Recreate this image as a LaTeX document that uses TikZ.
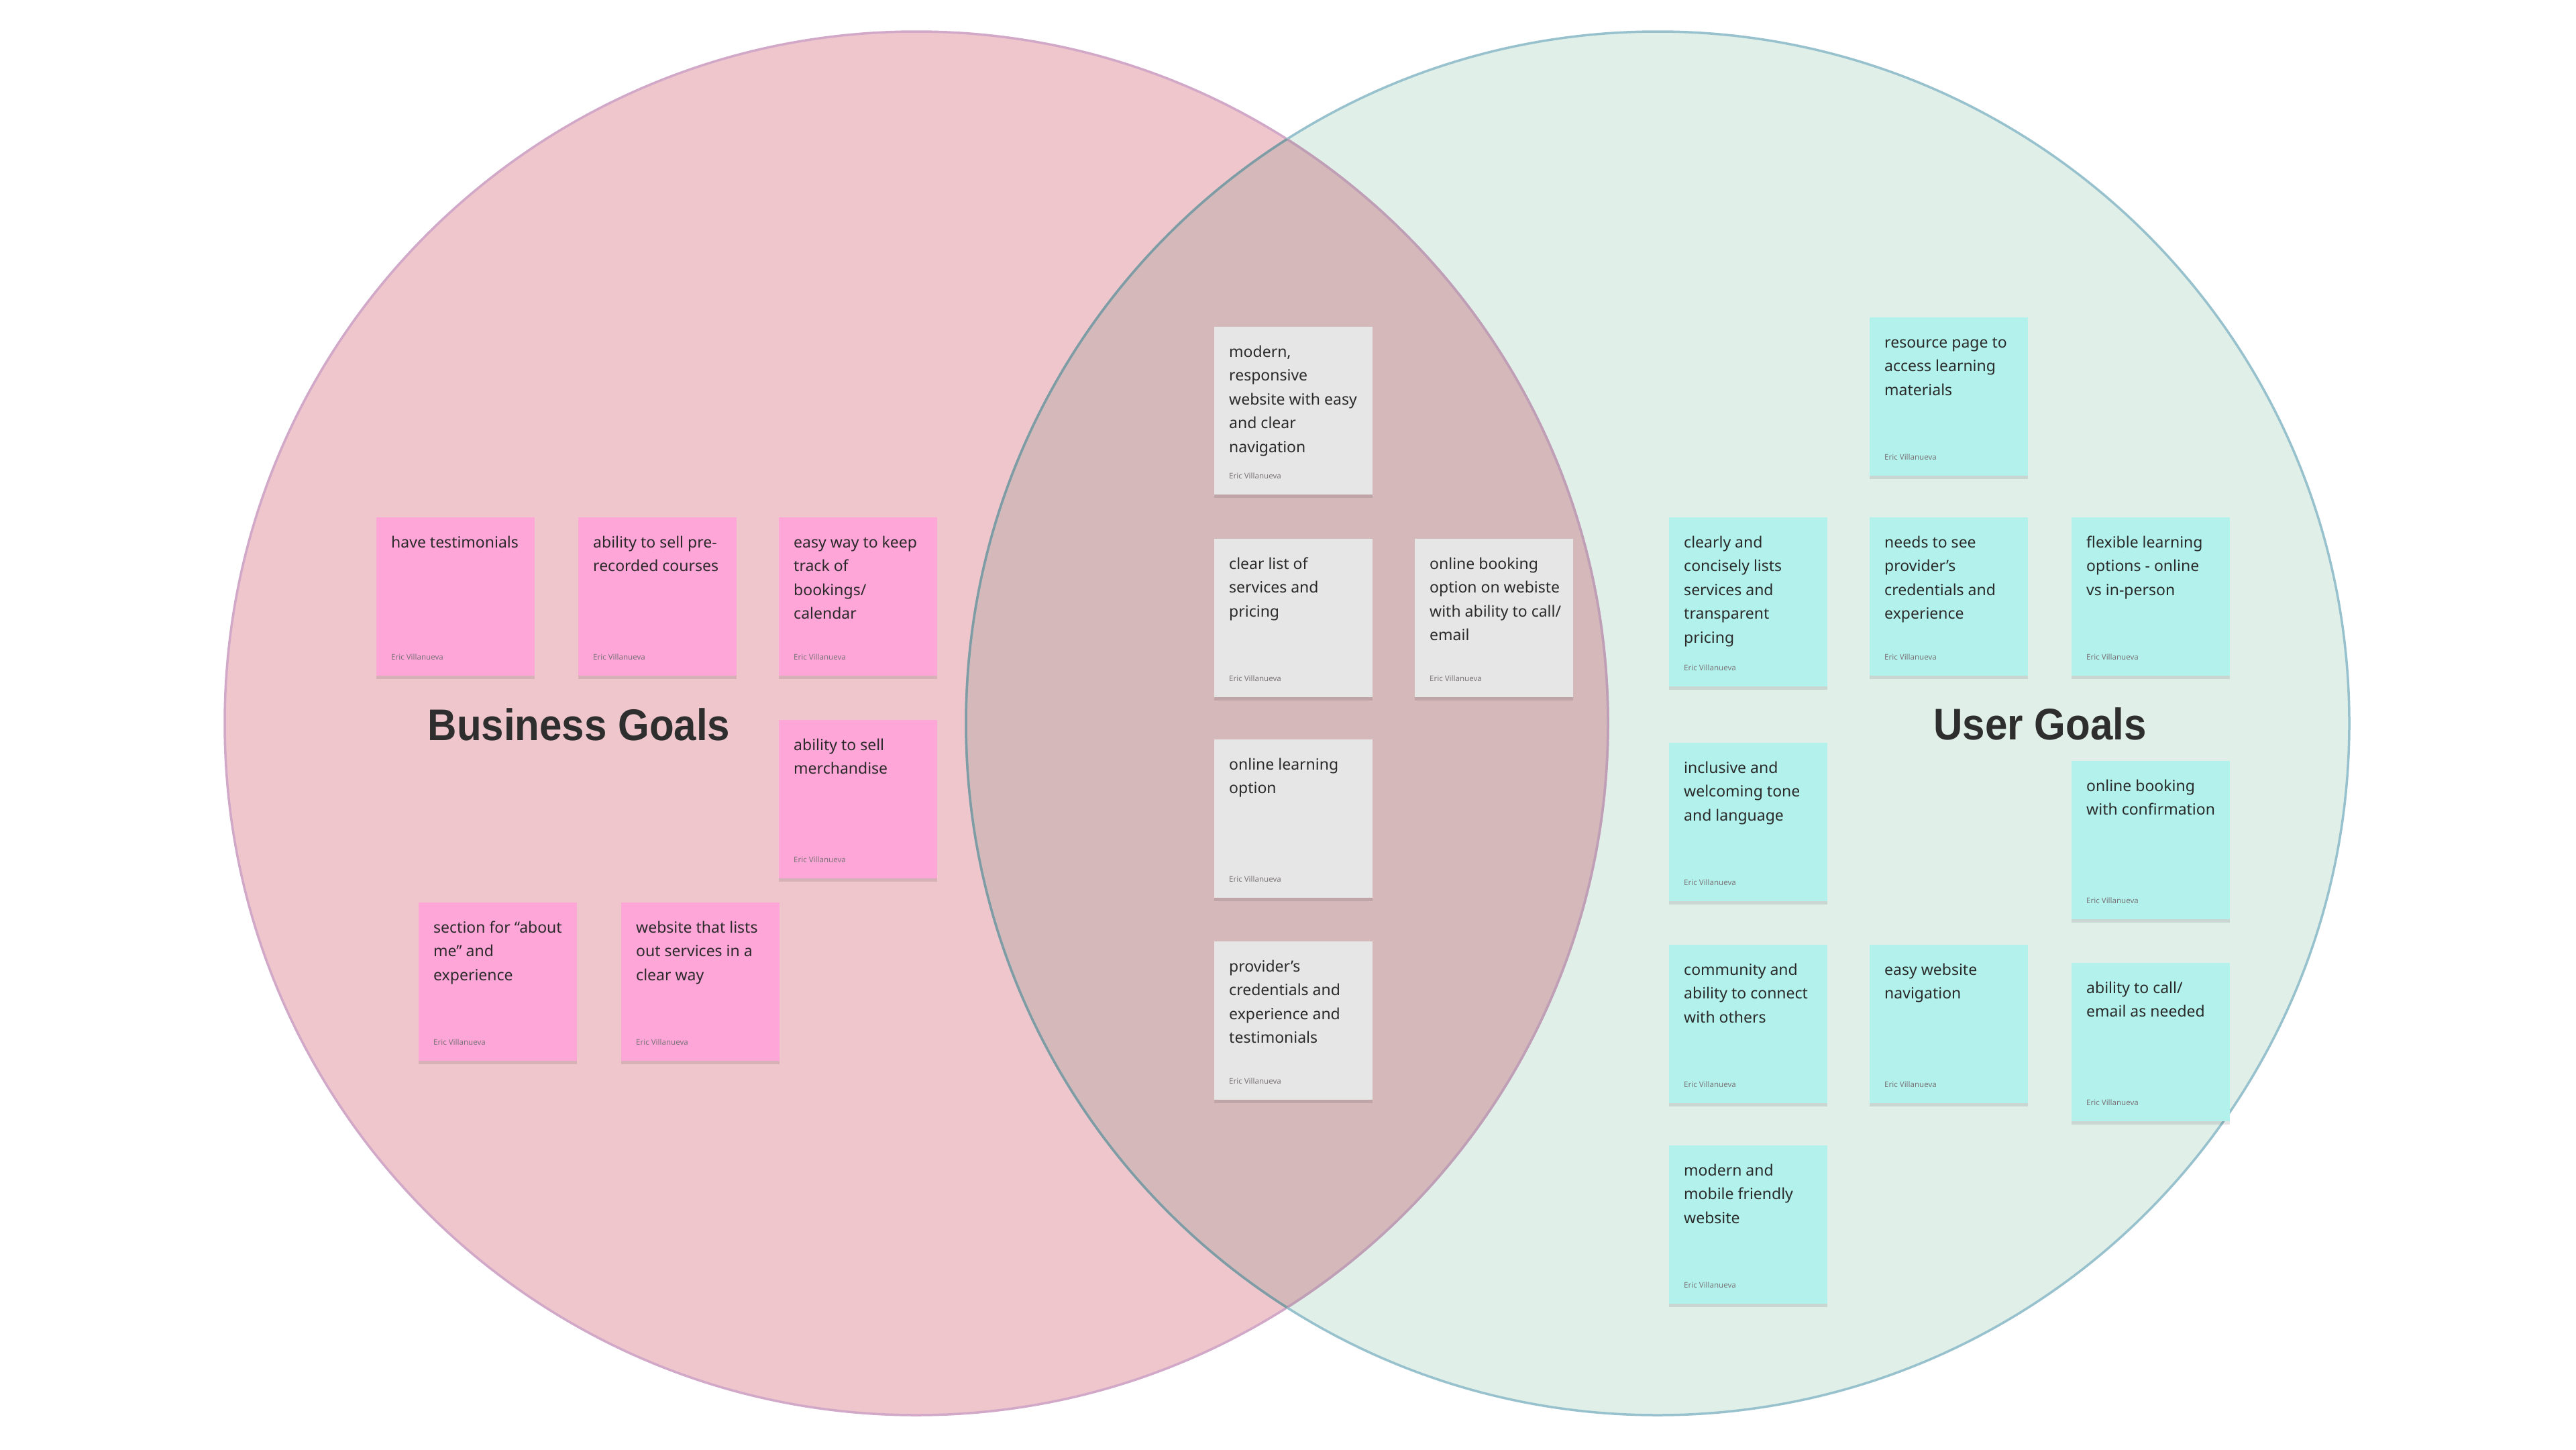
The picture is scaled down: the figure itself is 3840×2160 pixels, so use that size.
\documentclass[tikz,border=0pt]{standalone}
\usepackage{fontspec}
\setmainfont{Noto Sans}
\newfontfamily\titlefont{Liberation Sans}
\usetikzlibrary{shadows}
\definecolor{leftfill}{HTML}{EFC6CC}
\definecolor{leftline}{HTML}{D1A8C7}
\definecolor{rightfill}{HTML}{E1EFE9}
\definecolor{rightline}{HTML}{97C1CD}
\definecolor{overlapfill}{HTML}{D5B8BA}
\definecolor{leftlinein}{HTML}{BE9FB5}
\definecolor{rightlinein}{HTML}{7F9BA3}
\definecolor{pinknote}{HTML}{FFA6D9}
\definecolor{graynote}{HTML}{E6E6E6}
\definecolor{tealnote}{HTML}{B3F2EC}
\definecolor{txt}{HTML}{2A2A2A}
\definecolor{authorgray}{HTML}{7A7478}
\definecolor{titlecol}{HTML}{2E2E2E}
\tikzset{
  stickybox/.style={rectangle, draw=none, minimum width=236pt, inner sep=0pt, anchor=north west,
    drop shadow={shadow xshift=0pt, shadow yshift=-5pt, opacity=0.10, fill=black}},
  stext/.style={anchor=north west, inner sep=0pt, align=left, text=txt,
    font=\fontsize{23}{35.5}\selectfont},
  sauthor/.style={anchor=base west, inner sep=0pt, text=authorgray,
    font=\fontsize{11.5}{14}\selectfont},
  goaltitle/.style={anchor=base, inner sep=0pt, text=titlecol,
    font=\titlefont\bfseries\fontsize{66}{70}\selectfont, xscale=0.91},
  venn/.style={line width=3.5pt},
}
\newcommand\stickynote[6]{%
  \node[stickybox, fill=#5, minimum height=#4pt] (#1) at (#2,#3) {};
  \node[stext] (#1-t) at ([xshift=22pt,yshift=-26pt]#1.north west) {\rule{0pt}{19pt}#6};
  \node[sauthor] (#1-a) at ([xshift=22pt,yshift=24pt]#1.south west) {Eric Villanueva};
}
\begin{document}
\begin{tikzpicture}[x=1pt,y=-1pt]
\useasboundingbox (0,0) rectangle (3840,2160);
\fill[white] (0,0) rectangle (3840,2160);
\coordinate (cl) at (1366,1078);
\coordinate (cr) at (2471,1078);
% fills
\fill[leftfill] (cl) circle[radius=1031];
\fill[rightfill] (cr) circle[radius=1031];
\begin{scope}
  \clip (cl) circle[radius=1031];
  \fill[overlapfill] (cr) circle[radius=1031];
\end{scope}
% outlines
\draw[venn, leftline] (cl) circle[radius=1031];
\draw[venn, rightline] (cr) circle[radius=1031];
\begin{scope}
  \clip (cr) circle[radius=1031];
  \draw[venn, leftlinein] (cl) circle[radius=1031];
\end{scope}
\begin{scope}
  \clip (cl) circle[radius=1031];
  \draw[venn, rightlinein] (cr) circle[radius=1031];
\end{scope}
% titles
\node[goaltitle] (bgoals) at (863,1103) {Business Goals};
\node[goaltitle] (ugoals) at (3041,1102) {User Goals};
% business goals
\stickynote{p1}{561}{771}{236}{pinknote}{have testimonials}
\stickynote{p2}{862}{771}{236}{pinknote}{ability to sell pre-\\recorded courses}
\stickynote{p3}{1161}{771}{236}{pinknote}{easy way to keep\\track of\\bookings/\\calendar}
\stickynote{p4}{1161}{1073}{236}{pinknote}{ability to sell\\merchandise}
\stickynote{p5}{624}{1345}{236}{pinknote}{section for “about\\me” and\\experience}
\stickynote{p6}{926}{1345}{236}{pinknote}{website that lists\\out services in a\\clear way}
% shared
\stickynote{g1}{1810}{487}{250}{graynote}{modern,\\responsive\\website with easy\\and clear\\navigation}
\stickynote{g2}{1810}{803}{236}{graynote}{clear list of\\services and\\pricing}
\stickynote{g3}{2109}{803}{236}{graynote}{online booking\\option on webiste\\with ability to call/\\email}
\stickynote{g4}{1810}{1102}{236}{graynote}{online learning\\option}
\stickynote{g5}{1810}{1403}{236}{graynote}{provider’s\\credentials and\\experience and\\testimonials}
% user goals
\stickynote{t1}{2787}{473}{236}{tealnote}{resource page to\\access learning\\materials}
\stickynote{t2}{2488}{771}{252}{tealnote}{clearly and\\concisely lists\\services and\\transparent\\pricing}
\stickynote{t3}{2787}{771}{236}{tealnote}{needs to see\\provider’s\\credentials and\\experience}
\stickynote{t4}{3088}{771}{236}{tealnote}{flexible learning\\options - online\\vs in-person}
\stickynote{t5}{2488}{1107}{236}{tealnote}{inclusive and\\welcoming tone\\and language}
\stickynote{t6}{3088}{1134}{236}{tealnote}{online booking\\with confirmation}
\stickynote{t7}{2488}{1408}{236}{tealnote}{community and\\ability to connect\\with others}
\stickynote{t8}{2787}{1408}{236}{tealnote}{easy website\\navigation}
\stickynote{t9}{3088}{1435}{236}{tealnote}{ability to call/\\email as needed}
\stickynote{t10}{2488}{1707}{236}{tealnote}{modern and\\mobile friendly\\website}
\end{tikzpicture}
\end{document}
